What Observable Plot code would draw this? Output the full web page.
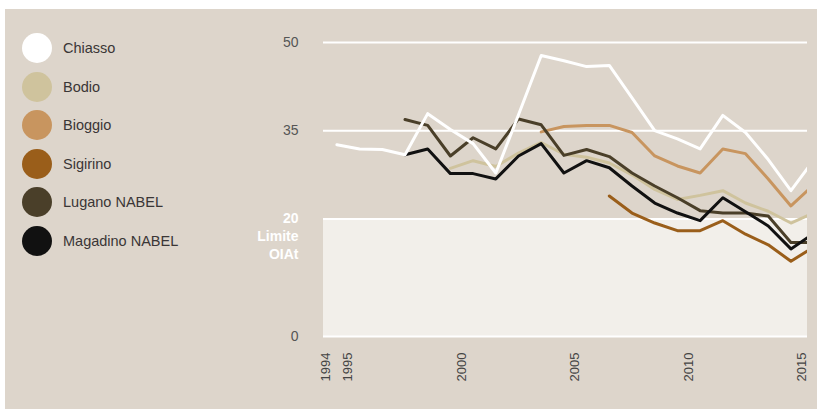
<!DOCTYPE html>
<html><head><meta charset="utf-8">
<script src="https://cdn.jsdelivr.net/npm/d3@7"></script>
<script src="https://cdn.jsdelivr.net/npm/@observablehq/plot@0.6"></script>
<style>
html,body{margin:0;padding:0;background:#fff;}
#wrap{position:relative;width:817px;height:409px;overflow:hidden;font-family:"Liberation Sans",Arial,sans-serif;}
#bg{position:absolute;left:5px;top:9px;right:0;bottom:0;background:#ddd5cb;}
#chart{position:absolute;left:0;top:0;}
#legend{position:absolute;left:0;top:0;}
.item{position:absolute;left:22px;height:30px;display:flex;align-items:center;}
.dot{width:30px;height:30px;border-radius:50%;margin-right:11px;flex:none;}
.lab{font-size:14.5px;color:#3a3636;white-space:nowrap;}
</style></head><body>
<div id="wrap"><div id="bg"></div><div id="chart"></div><div id="legend"></div></div>
<script>
const years = [1994,1995,1996,1997,1998,1999,2000,2001,2002,2003,2004,2005,2006,2007,2008,2009,2010,2011,2012,2013,2014,2015];
const seriesNames = ["Chiasso","Bodio","Bioggio","Sigirino","Lugano NABEL","Magadino NABEL"];
const seriesColors = ["#ffffff","#cfc39d","#c8955f","#9a5e1a","#4a3f29","#111111"];
const chiasso  = [32.6,31.9,31.8,30.9,37.9,35.2,32.8,27.8,37.7,47.8,46.9,45.9,46.1,40.6,35.0,33.6,31.9,37.6,34.7,30.1,24.8,30.0];
const bodio    = [null,null,null,null,null,28.6,29.9,28.9,31.2,33.0,31.0,30.5,29.5,27.5,25.0,23.3,24.0,24.8,22.7,21.3,19.3,21.0];
const bioggio  = [null,null,null,null,null,null,null,null,null,34.8,35.7,35.9,35.9,34.7,30.7,29.0,27.8,31.9,31.1,26.8,22.2,25.8];
const sigirino = [null,null,null,null,null,null,null,null,null,null,null,null,23.9,21.0,19.3,18.0,18.0,19.7,17.4,15.6,12.8,15.2];
const lugano   = [null,null,null,36.9,35.9,30.7,33.8,31.9,37.0,36.0,30.8,31.8,30.6,27.8,25.6,23.6,21.4,21.0,21.0,20.5,16.0,16.0];
const magadino = [null,null,null,30.9,31.9,27.7,27.7,26.8,30.7,32.8,27.8,29.9,28.7,25.6,22.7,21.0,19.7,23.6,21.2,18.8,14.9,17.5];
const seriesValues = [chiasso,bodio,bioggio,sigirino,lugano,magadino];
const xTicks = [1994,1995,2000,2005,2010,2015];
const yTicks = [0,35,50];
const gridValues = [0,20,35,50];
const limit = 20;
const limitLabel = ["20","Limite","OIAt"];

const xDomain = [1993.91, 2015.23];
const rows = [];
seriesNames.forEach((name, s) => {
  years.forEach((yr, i) => {
    const v = seriesValues[s][i];
    if (v != null) rows.push({series: name, year: yr, value: v});
  });
});
const drawOrder = ["Bodio","Sigirino","Bioggio","Lugano NABEL","Magadino NABEL","Chiasso"];
const colorOf = Object.fromEntries(seriesNames.map((n,i)=>[n, seriesColors[i]]));

const chart = Plot.plot({
  width: 817, height: 409,
  marginLeft: 323, marginRight: 10, marginTop: 42, marginBottom: 73,
  style: {background: "transparent", fontFamily: "'Liberation Sans', Arial, sans-serif", overflow: "visible"},
  x: {domain: xDomain, label: null, axis: null},
  y: {domain: [0, 50], label: null, axis: null},
  marks: [
    Plot.rect([{x1: xDomain[0], x2: xDomain[1], y1: 0, y2: limit}], {x1: "x1", x2: "x2", y1: "y1", y2: "y2", fill: "#f2efea"}),
    Plot.ruleY(gridValues, {stroke: "#ffffff", strokeWidth: 2}),
    Plot.axisY(yTicks, {tickSize: 0, tickPadding: 25, fontSize: 14, fill: "#555", label: null}),
    ...limitLabel.map((t, i) => Plot.text([t], {x: xDomain[0], y: limit, text: d => d, dx: -25, dy: i * 18, textAnchor: "end", fill: "#ffffff", fontWeight: "bold", fontSize: 14})),
    Plot.axisX(xTicks, {tickSize: 0, tickPadding: 16, tickRotate: -90, fontSize: 13, fill: "#444", tickFormat: d => String(d), label: null}),
    ...drawOrder.map(name => Plot.line(rows.filter(r => r.series === name), {
      x: d => d.year + 0.5, y: "value", stroke: colorOf[name], strokeWidth: 3, clip: true
    }))
  ]
});
document.getElementById("chart").appendChild(chart);

const leg = document.getElementById("legend");
seriesNames.forEach((name, i) => {
  const it = document.createElement("div");
  it.className = "item";
  it.style.top = (33 + i * 38.6) + "px";
  it.innerHTML = `<span class="dot" style="background:${seriesColors[i]}"></span><span class="lab">${name}</span>`;
  leg.appendChild(it);
});
</script>
</body></html>
